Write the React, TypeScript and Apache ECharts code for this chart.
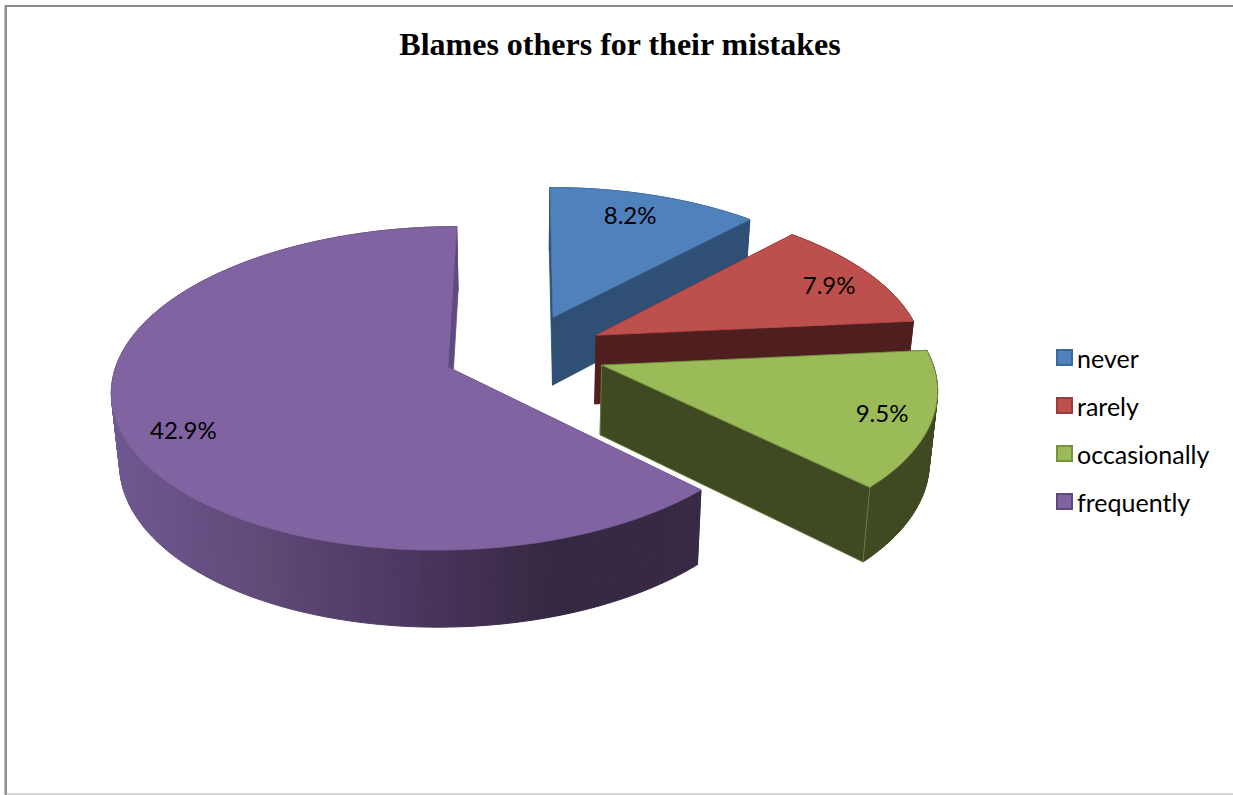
import React, { useEffect, useRef } from "react";
import * as echarts from "echarts";

// Survey answers, in percent
const categories = ["never", "rarely", "occasionally", "frequently"];
const percents = [8.2, 7.9, 9.5, 42.9];

// Face colours of each slice
const topColors = ["#4f81bd", "#bd4f4c", "#9bbb59", "#8063a0"];
const wallColors = ["#2f4f75", "#4f1f1f", "#3f4a22", "#5f4a82"];
const edgeColors = ["#4a79b2", "#b04947", "#71893f", "#7a5e99"];
const legendBorders = ["#3a679c", "#9c3b38", "#76923c", "#5f497a"];
const frequentRimShades = ["#6f5890", "#5f4a78", "#4c3760", "#352842", "#382a44"];

// Where each percentage sits on its slice, relative to the slice's bisector
const labelAngleOffsets = [-2, 1.4, 0.2, -4];
const labelRadii = [0.82, 0.84, 0.855, 0.835];

// Tilted pie projection
const CENTER_X = 524;
const CENTER_Y = 352;
const RADIUS_X = 328;
const RADIUS_Y = 155;
const PERSPECTIVE = 0.13;
const EXPLODE = 0.2485;

type Pt = [number, number];

const rad = (deg: number) => (deg * Math.PI) / 180;

// Maps a point of the pie's plane onto the upper face
function project(u: number, v: number): Pt {
  const s = 1 / (1 + PERSPECTIVE * v);
  return [CENTER_X + RADIUS_X * u * s, CENTER_Y - RADIUS_Y * v * s];
}

// Drops a point of the upper face to the lower face of the pie
function drop([x, y]: Pt): Pt {
  return [CENTER_X + (x - CENTER_X) * 0.98, 55.6 + 1.039 * y];
}

const total = percents.reduce((a, b) => a + b, 0);

function sliceChildren(index: number) {
  const before = percents.slice(0, index).reduce((a, b) => a + b, 0);
  const start = (before / total) * 360;
  const end = ((before + percents[index]) / total) * 360;
  const mid = rad((start + end) / 2);
  const apexU = EXPLODE * Math.sin(mid);
  const apexV = EXPLODE * Math.cos(mid);
  const onSlice = (deg: number, r: number): Pt =>
    project(apexU + r * Math.sin(rad(deg)), apexV + r * Math.cos(rad(deg)));

  const rim: Pt[] = [];
  const steps = Math.ceil(end - start);
  for (let i = 0; i <= steps; i++) rim.push(onSlice(start + ((end - start) * i) / steps, 1));
  const apex = onSlice(0, 0);
  const rimFirst = rim[0];
  const rimLast = rim[rim.length - 1];

  const poly = (points: Pt[], fill: string, stroke: string, lineWidth = 0.8) => ({
    type: "polygon",
    shape: { points },
    style: { fill, stroke, lineWidth, lineJoin: "round" },
  });

  const wall = wallColors[index];
  const isFrequent = categories[index] === "frequently";
  const xs = rim.map((p) => p[0]);
  const minX = Math.min(...xs);
  const maxX = Math.max(...xs);

  // The outer wall is swept one short segment at a time, so its silhouette stays closed
  const rimWall = rim.slice(1).map((p, i) => {
    const q = rim[i];
    const shade = isFrequent
      ? echarts.color.lerp(((p[0] + q[0]) / 2 - minX) / (maxX - minX), frequentRimShades)
      : wall;
    return poly([q, p, drop(p), drop(q)], shade as string, shade as string, 1);
  });

  const label = onSlice((start + end) / 2 + labelAngleOffsets[index], labelRadii[index]);
  const isOccasional = index === 2;

  return [
    poly([apex, rimFirst, drop(rimFirst), drop(apex)], wall, wall),
    ...rimWall,
    poly([apex, rimLast, drop(rimLast), drop(apex)], wall, isOccasional ? edgeColors[2] : wall),
    poly([apex, ...rim], topColors[index], edgeColors[index]),
    {
      type: "text",
      x: label[0],
      y: label[1],
      style: {
        text: `${percents[index].toFixed(1)}%`,
        fill: "#000000",
        font: "24px Lato",
        align: "center",
        verticalAlign: "middle",
      },
    },
  ];
}

export default function App() {
  const ref = useRef<HTMLDivElement>(null);

  useEffect(() => {
    const chart = echarts.init(ref.current!, undefined, { renderer: "svg" });
    chart.setOption({
      animation: false,
      backgroundColor: "#ffffff",
      title: {
        text: "Blames others for their mistakes",
        left: 615,
        top: 23,
        textAlign: "center",
        textStyle: {
          fontFamily: "Liberation Serif",
          fontWeight: "bold",
          fontSize: 32,
          color: "#000000",
        },
      },
      legend: {
        orient: "vertical",
        left: 1056,
        top: 345,
        padding: 0,
        itemWidth: 15,
        itemHeight: 15,
        itemGap: 23,
        icon: "rect",
        selectedMode: false,
        textStyle: {
          fontFamily: "Lato",
          fontSize: 25,
          lineHeight: 25,
          color: "#000000",
        },
        data: categories.map((name, i) => ({
          name,
          itemStyle: {
            color: topColors[i],
            borderColor: legendBorders[i],
            borderWidth: 2,
          },
        })),
      },
      graphic: [
        { type: "rect", shape: { x: 4, y: 5, width: 1, height: 790 }, style: { fill: "#c4c4c4" } },
        { type: "rect", shape: { x: 5, y: 5, width: 2, height: 790 }, style: { fill: "#8e8e8e" } },
        { type: "rect", shape: { x: 5, y: 5, width: 1228, height: 2 }, style: { fill: "#8e8e8e" } },
        { type: "rect", shape: { x: 7, y: 793, width: 1226, height: 2 }, style: { fill: "#d4d4d4" } },
      ],
      series: categories.map((name, i) => ({
        type: "custom",
        name,
        coordinateSystem: "none",
        silent: true,
        z: 2 + i,
        itemStyle: { color: topColors[i] },
        data: [percents[i]],
        renderItem: () => ({ type: "group", children: sliceChildren(i) }),
      })),
    });
    return () => chart.dispose();
  }, []);

  return (
    <div
      ref={ref}
      style={{ position: "fixed", left: 0, top: 0, width: 1233, height: 795 }}
    />
  );
}
